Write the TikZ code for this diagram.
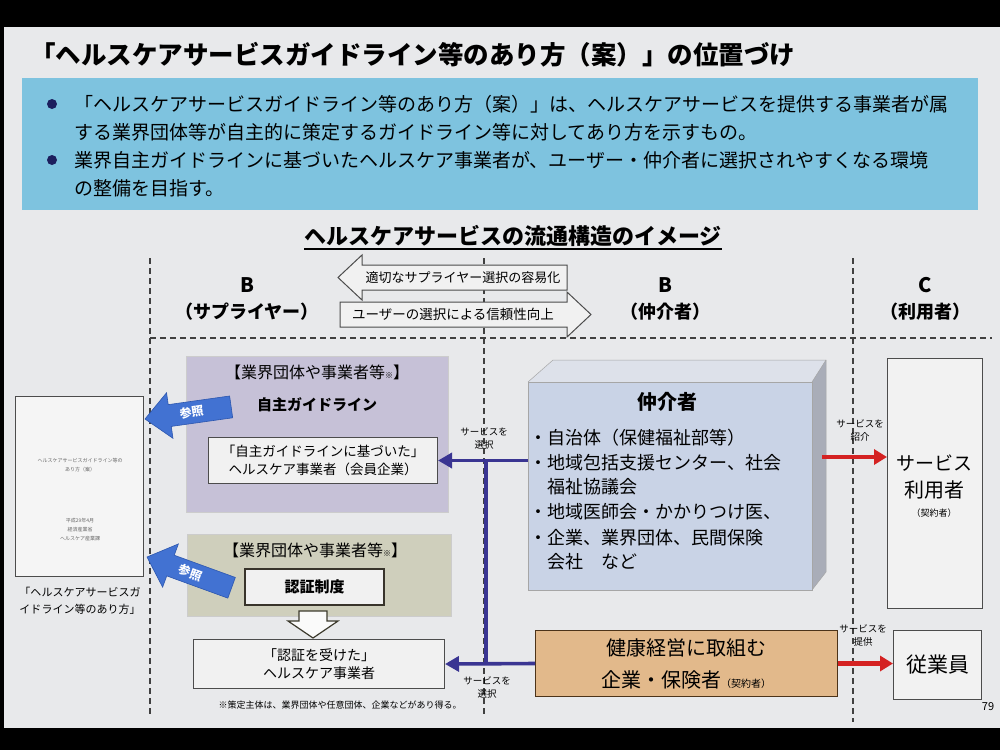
\documentclass[tikz,border=0pt]{standalone}
\usepackage{fontspec}
\setmainfont{Noto Sans CJK JP}
\usetikzlibrary{arrows.meta}
\definecolor{slidebg}{HTML}{E8E9EB}
\definecolor{bandblue}{HTML}{7EC3DF}
\definecolor{bulletnavy}{HTML}{1C1F5E}
\definecolor{connblue}{HTML}{3A3592}
\definecolor{refblue}{HTML}{4272D2}
\definecolor{refdark}{HTML}{2C56AE}
\definecolor{lavbox}{HTML}{C6C1D7}
\definecolor{khakibox}{HTML}{CFCFBC}
\definecolor{tanbox}{HTML}{E2B98B}
\definecolor{frontc}{HTML}{C9D3E6}
\definecolor{topc}{HTML}{DDE1EA}
\definecolor{sidec}{HTML}{A9ADB8}
\definecolor{redc}{HTML}{D42222}
\definecolor{boxfill}{HTML}{F1F1F1}
\newcommand\fzz[2]{\fontsize{#1}{#2}\selectfont}
\begin{document}
\begin{tikzpicture}[x=1pt,y=-1pt,
 txt/.style={inner sep=0pt, align=center},
 ltxt/.style={inner sep=0pt, anchor=west},
 plainbox/.style={draw=black!70, line width=1pt, fill=boxfill, inner sep=0pt, anchor=north west},
 dsh/.style={draw=black!75, line width=1.6pt, dash pattern=on 6pt off 4pt},
 bluearr/.style={draw=connblue, line width=3.6pt, -{Triangle[length=14pt,width=15pt]}},
 blueln/.style={draw=connblue, line width=3.6pt},
 redarr/.style={draw=redc, line width=4.6pt, -{Triangle[length=13pt,width=15pt]}},
 outarrow/.style={draw=black!70, line width=1pt, fill=boxfill},
 refarrow/.style={fill=refblue, draw=refdark, line width=0.6pt},
 smalllbl/.style={inner sep=0pt, align=center, font=\fzz{9.5}{13}},
]
\useasboundingbox (0,0) rectangle (1000,750);
\fill[black] (0,0) rectangle (1000,750);
\fill[slidebg] (4,27) rectangle (1000,728);

% title
\node[ltxt, font=\fzz{25.5}{30}\bfseries] (title) at (30,55) {「ヘルスケアサービスガイドライン等のあり方（案）」の位置づけ};

% blue band
\node[fill=bandblue, minimum width=956pt, minimum height=132pt, anchor=north west, inner sep=0pt] (band) at (22,78) {};
\fill[bulletnavy] (52,104) circle (5pt);
\fill[bulletnavy] (52,160) circle (5pt);
\node[ltxt, font=\fzz{19}{22}] (b1a) at (74,104) {「ヘルスケアサービスガイドライン等のあり方（案）」は、ヘルスケアサービスを提供する事業者が属};
\node[ltxt, font=\fzz{19}{22}] (b1b) at (74,132) {する業界団体等が自主的に策定するガイドライン等に対してあり方を示すもの。};
\node[ltxt, font=\fzz{19}{22}] (b2a) at (74,160) {業界自主ガイドラインに基づいたヘルスケア事業者が、ユーザー・仲介者に選択されやすくなる環境};
\node[ltxt, font=\fzz{19}{22}] (b2b) at (74,188) {の整備を目指す。};

% subtitle
\node[txt, font=\fzz{22}{26}\bfseries] (sub) at (513,236) {ヘルスケアサービスの流通構造のイメージ};
\draw[line width=1.3pt] ([yshift=-2pt]sub.south west) -- ([yshift=-2pt]sub.south east);

% dashed separators
\draw[dsh] (150,258) -- (150,716);
\draw[dsh] (484,258) -- (484,716);
\draw[dsh] (853,258) -- (853,722);
\draw[dsh] (150,338) -- (992,338);

% column headers
\node[txt, font=\fzz{20}{24}\bfseries] (hB1) at (247,285) {B};
\node[txt, font=\fzz{18}{22}\bfseries] (hB1s) at (247,312) {（サプライヤー）};
\node[txt, font=\fzz{20}{24}\bfseries] (hB2) at (665,285) {B};
\node[txt, font=\fzz{18}{22}\bfseries] (hB2s) at (665,312) {（仲介者）};
\node[txt, font=\fzz{20}{24}\bfseries] (hC) at (925,285) {C};
\node[txt, font=\fzz{18}{22}\bfseries] (hCs) at (925,312) {（利用者）};

% top outline arrows
\draw[outarrow] (567,265) -- (362,265) -- (362,255) -- (338,277.5) -- (362,300) -- (362,290) -- (567,290) -- cycle;
\node[txt, font=\fzz{13}{15}] (ta1) at (463,277.5) {適切なサプライヤー選択の容易化};
\draw[outarrow] (340,302) -- (567,302) -- (567,292) -- (591,314.5) -- (567,337) -- (567,327) -- (340,327) -- cycle;
\node[txt, font=\fzz{13.5}{15}] (ta2) at (453,314.5) {ユーザーの選択による信頼性向上};

% left document
\node[draw=black!70, line width=1pt, fill=white!92!gray, minimum width=128pt, minimum height=180pt, anchor=north west, inner sep=0pt] (doc) at (15,396) {};
\node[txt, font=\fzz{5}{9}, text=black!60] (doct) at (80,465) {ヘルスケアサービスガイドライン等の\\あり方（案）};
\node[txt, font=\fzz{5}{9}, text=black!60] (docb) at (80,530) {平成29年4月\\経済産業省\\ヘルスケア産業課};
\node[txt, font=\fzz{11}{17}] (doccap) at (80,601) {「ヘルスケアサービスガ\\イドライン等のあり方」};

% self guideline group
\node[fill=lavbox, draw=black!20, line width=0.5pt, minimum width=262pt, minimum height=156pt, anchor=north west, inner sep=0pt] (gl) at (186,356) {};
\node[txt, font=\fzz{16}{18}] (glt) at (317,372) {【業界団体や事業者等{\fzz{8}{8}※}】};
\node[txt, font=\fzz{15}{18}\bfseries] (glh) at (317,405) {自主ガイドライン};
\node[plainbox, minimum width=229pt, minimum height=46pt] (glbox) at (208,437) {};
\node[txt, font=\fzz{13.5}{18}] (glboxt) at (glbox.center) {「自主ガイドラインに基づいた」\\ヘルスケア事業者（会員企業）};

% certification group
\node[fill=khakibox, draw=black!20, line width=0.5pt, minimum width=264pt, minimum height=82pt, anchor=north west, inner sep=0pt] (cs) at (187,534) {};
\node[txt, font=\fzz{16}{18}] (cst) at (315,550) {【業界団体や事業者等{\fzz{8}{8}※}】};
\node[draw=black!80!olive, line width=2pt, fill=boxfill, minimum width=139pt, minimum height=36pt, anchor=north west, inner sep=0pt] (certsys) at (244,568) {};
\node[txt, font=\fzz{15}{18}\bfseries] (certsyst) at (certsys.center) {認証制度};
\draw[draw=black!75!olive, line width=1.2pt, fill=white!96!gray] (299,611) -- (327,611) -- (327,621) -- (338,621) -- (313,638) -- (288,621) -- (299,621) -- cycle;
\node[plainbox, minimum width=251pt, minimum height=49pt] (cert) at (193,639) {};
\node[txt, font=\fzz{14}{18}] (certt) at (cert.center) {「認証を受けた」\\ヘルスケア事業者};
\node[txt, font=\fzz{9}{11}] (foot) at (340,705) {※策定主体は、業界団体や任意団体、企業などがあり得る。};

% 参照 arrows (in front of the boxes)
\begin{scope}[shift={(145,419)}, rotate=8]
\draw[refarrow] (0,0) -- (25,-23) -- (25,-11) -- (87,-11) -- (87,11) -- (25,11) -- (25,23) -- cycle;
\node[txt, rotate=8, text=white, font=\fzz{12}{14}\bfseries] (ref1) at (47,0) {参照};
\end{scope}
\begin{scope}[shift={(147,557)}, rotate=-20]
\draw[refarrow] (0,0) -- (25,-23) -- (25,-11) -- (90,-11) -- (90,11) -- (25,11) -- (25,23) -- cycle;
\node[txt, rotate=-20, text=white, font=\fzz{12}{14}\bfseries] (ref2) at (46,0) {参照};
\end{scope}

% intermediary 3D box
\fill[topc] (528,382) -- (553,360) -- (826,360) -- (812,382) -- cycle;
\fill[sidec] (812,382) -- (826,360) -- (826,572) -- (812,590) -- cycle;
\draw[black!35, line width=0.5pt] (528,382) -- (553,360) -- (826,360) -- (826,572) -- (812,590);
\draw[black!35, line width=0.5pt] (812,382) -- (826,360);
\node[fill=frontc, draw=black!35, line width=0.5pt, minimum width=284pt, minimum height=208pt, anchor=north west, inner sep=0pt] (med) at (528,382) {};
\node[txt, font=\fzz{20}{24}\bfseries] (medh) at (667,402) {仲介者};
\node[ltxt, font=\fzz{18}{22}] (m1) at (529,438) {・自治体（保健福祉部等）};
\node[ltxt, font=\fzz{18}{22}] (m2) at (529,463) {・地域包括支援センター、社会};
\node[ltxt, font=\fzz{18}{22}] (m3) at (547,487) {福祉協議会};
\node[ltxt, font=\fzz{18}{22}] (m4) at (529,512) {・地域医師会・かかりつけ医、};
\node[ltxt, font=\fzz{18}{22}] (m5) at (529,538) {・企業、業界団体、民間保険};
\node[ltxt, font=\fzz{18}{22}] (m6) at (547,562) {会社　など};

% health management box
\node[fill=tanbox, draw=black!60!brown, line width=1pt, minimum width=302pt, minimum height=66pt, anchor=north west, inner sep=0pt] (kenko) at (535,630) {};
\node[txt, font=\fzz{20}{24}] (k1) at (686,648) {健康経営に取組む};
\node[txt, font=\fzz{20}{24}] (k2) at (686,680) {企業・保険者{\fzz{10}{12}（契約者）}};

% users
\node[plainbox, fill=white!90!gray, minimum width=95pt, minimum height=250pt] (user) at (887,358) {};
\node[txt, font=\fzz{19}{22}] (u1) at (934,463) {サービス};
\node[txt, font=\fzz{20}{24}] (u2) at (934,490) {利用者};
\node[txt, font=\fzz{9}{11}] (u3) at (934,513) {（契約者）};
\node[plainbox, fill=white!90!gray, minimum width=88pt, minimum height=69pt] (emp) at (893,630) {};
\node[txt, font=\fzz{21}{24}] (empt) at (emp.center) {従業員};

% connectors
\coordinate (jt) at (486,460);
\draw[blueln] (jt) -- (jt |- kenko.west);
\draw[bluearr] (med.west |- glbox.east) -- (glbox.east);
\draw[bluearr] (kenko.west) -- (cert.east);
\coordinate (rs) at (822,457);
\draw[redarr] (rs) -- (rs -| user.west);
\draw[redarr] (kenko.east) -- (kenko.east -| emp.west);

% connector labels
\node[smalllbl] (l1) at (484,438) {サービスを\\選択};
\node[smalllbl] (l2) at (487,687) {サービスを\\選択};
\node[smalllbl] (l3) at (860,430) {サービスを\\紹介};
\node[smalllbl] (l4) at (863,635) {サービスを\\提供};

\node[txt, font=\fzz{11}{13}] (pg) at (988,707) {79};
\end{tikzpicture}
\end{document}
